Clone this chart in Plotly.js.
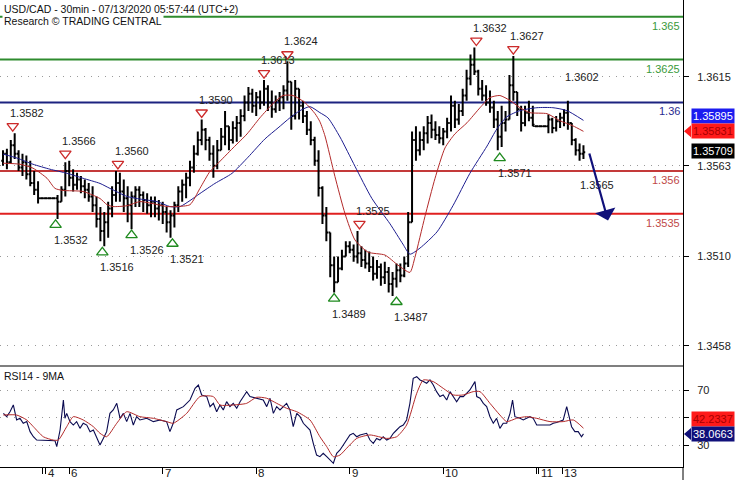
<!DOCTYPE html>
<html><head><meta charset="utf-8">
<script src="https://cdn.plot.ly/plotly-3.0.1.min.js"></script>
<style>html,body{margin:0;padding:0;background:#fff}#chart{width:735px;height:480px}</style>
</head><body><div id="chart"></div>
<script>
// ---- 30-min bars (time slot index = 2*i) ----
const barOpen = [1.3566,1.3570,1.3565,1.3575,1.3570,1.3562,1.3565,1.3558,1.3553,1.3549,
1.3544,1.3544,1.3544,1.3544,1.3544,1.3542,1.3549,1.3560,1.3556,1.3552,
1.3555,1.3551,1.3549,1.3545,1.3540,1.3532,1.3525,1.3530,1.3538,1.3546,
1.3553,1.3548,1.3544,1.3540,1.3545,1.3549,1.3546,1.3543,1.3540,1.3542,
1.3538,1.3540,1.3536,1.3530,1.3534,1.3540,1.3548,1.3552,1.3556,1.3562,
1.3570,1.3578,1.3584,1.3578,1.3570,1.3563,1.3572,1.3580,1.3586,1.3578,
1.3585,1.3588,1.3592,1.3600,1.3605,1.3598,1.3603,1.3600,1.3608,1.3600,
1.3596,1.3601,1.3603,1.3607,1.3612,1.3592,1.3608,1.3598,1.3592,1.3584,
1.3578,1.3566,1.3550,1.3534,1.3524,1.3505,1.3495,1.3503,1.3510,1.3516,
1.3514,1.3510,1.3512,1.3508,1.3506,1.3504,1.3500,1.3504,1.3498,1.3501,
1.3494,1.3497,1.3502,1.3499,1.3506,1.3530,1.3578,1.3572,1.3578,1.3582,
1.3588,1.3584,1.3581,1.3579,1.3583,1.3588,1.3598,1.3590,1.3595,1.3604,
1.3614,1.3622,1.3618,1.3608,1.3604,1.3600,1.3597,1.3590,1.3580,1.3588,
1.3590,1.3610,1.3606,1.3596,1.3588,1.3594,1.3591,1.3586,1.3586,1.3586,
1.3586,1.3590,1.3585,1.3589,1.3591,1.3594,1.3588,1.3578,1.3572,1.3570];
const barHigh = [1.3572,1.3573,1.3578,1.3582,1.3572,1.3570,1.3569,1.3566,1.3560,1.3554,
1.3544,1.3544,1.3544,1.3544,1.3546,1.3551,1.3565,1.3566,1.3561,1.3559,
1.3557,1.3555,1.3553,1.3551,1.3545,1.3539,1.3536,1.3542,1.3551,1.3560,
1.3559,1.3555,1.3551,1.3548,1.3551,1.3551,1.3548,1.3547,1.3545,1.3545,
1.3543,1.3542,1.3539,1.3537,1.3542,1.3551,1.3555,1.3559,1.3566,1.3575,
1.3583,1.3590,1.3585,1.3580,1.3575,1.3578,1.3585,1.3595,1.3586,1.3589,
1.3592,1.3596,1.3604,1.3609,1.3608,1.3606,1.3607,1.3613,1.3610,1.3607,
1.3604,1.3606,1.3610,1.3624,1.3612,1.3613,1.3608,1.3601,1.3595,1.3589,
1.3580,1.3572,1.3551,1.3539,1.3524,1.3510,1.3510,1.3514,1.3519,1.3519,
1.3517,1.3525,1.3516,1.3514,1.3513,1.3510,1.3508,1.3506,1.3507,1.3504,
1.3501,1.3506,1.3506,1.3510,1.3536,1.3583,1.3586,1.3583,1.3586,1.3592,
1.3593,1.3589,1.3586,1.3585,1.3591,1.3604,1.3601,1.3599,1.3608,1.3619,
1.3628,1.3632,1.3619,1.3613,1.3610,1.3607,1.3601,1.3595,1.3598,1.3595,
1.3616,1.3627,1.3606,1.3598,1.3598,1.3601,1.3598,1.3586,1.3586,1.3586,
1.3593,1.3591,1.3592,1.3594,1.3596,1.3601,1.3588,1.3579,1.3576,1.3575];
const barLow = [1.3563,1.3561,1.3564,1.3567,1.3560,1.3557,1.3555,1.3551,1.3546,1.3541,
1.3544,1.3544,1.3544,1.3544,1.3532,1.3542,1.3545,1.3551,1.3548,1.3549,
1.3547,1.3544,1.3542,1.3536,1.3527,1.3519,1.3516,1.3521,1.3533,1.3542,
1.3542,1.3536,1.3530,1.3526,1.3539,1.3539,1.3536,1.3535,1.3533,1.3533,
1.3531,1.3529,1.3524,1.3521,1.3527,1.3536,1.3542,1.3544,1.3551,1.3559,
1.3569,1.3575,1.3572,1.3566,1.3556,1.3561,1.3572,1.3575,1.3572,1.3576,
1.3577,1.3580,1.3589,1.3595,1.3594,1.3592,1.3596,1.3598,1.3595,1.3591,
1.3594,1.3595,1.3596,1.3601,1.3584,1.3590,1.3590,1.3588,1.3581,1.3575,
1.3563,1.3545,1.3529,1.3519,1.3498,1.3489,1.3495,1.3502,1.3510,1.3512,
1.3507,1.3506,1.3504,1.3503,1.3501,1.3496,1.3497,1.3493,1.3494,1.3489,
1.3487,1.3492,1.3495,1.3498,1.3504,1.3530,1.3566,1.3569,1.3572,1.3576,
1.3579,1.3578,1.3576,1.3575,1.3579,1.3583,1.3585,1.3587,1.3592,1.3601,
1.3610,1.3616,1.3604,1.3601,1.3598,1.3594,1.3585,1.3572,1.3574,1.3583,
1.3590,1.3601,1.3592,1.3583,1.3586,1.3589,1.3586,1.3586,1.3586,1.3586,
1.3582,1.3582,1.3583,1.3585,1.3586,1.3584,1.3575,1.3569,1.3566,1.3567];
const barClose = [1.3570,1.3565,1.3575,1.3570,1.3562,1.3565,1.3558,1.3553,1.3549,1.3544,
1.3544,1.3544,1.3544,1.3544,1.3542,1.3549,1.3560,1.3556,1.3552,1.3555,
1.3551,1.3549,1.3545,1.3540,1.3532,1.3525,1.3530,1.3538,1.3546,1.3553,
1.3548,1.3544,1.3540,1.3545,1.3549,1.3546,1.3543,1.3540,1.3542,1.3538,
1.3540,1.3536,1.3530,1.3534,1.3540,1.3548,1.3552,1.3556,1.3562,1.3570,
1.3578,1.3584,1.3578,1.3570,1.3563,1.3572,1.3580,1.3586,1.3578,1.3585,
1.3588,1.3592,1.3600,1.3605,1.3598,1.3603,1.3600,1.3608,1.3600,1.3596,
1.3601,1.3603,1.3607,1.3612,1.3592,1.3608,1.3598,1.3592,1.3584,1.3578,
1.3566,1.3550,1.3534,1.3524,1.3505,1.3495,1.3503,1.3510,1.3516,1.3514,
1.3510,1.3512,1.3508,1.3506,1.3504,1.3500,1.3504,1.3498,1.3501,1.3494,
1.3497,1.3502,1.3499,1.3506,1.3530,1.3578,1.3572,1.3578,1.3582,1.3588,
1.3584,1.3581,1.3579,1.3583,1.3588,1.3598,1.3590,1.3595,1.3604,1.3614,
1.3622,1.3618,1.3608,1.3604,1.3600,1.3597,1.3590,1.3580,1.3588,1.3590,
1.3610,1.3606,1.3596,1.3588,1.3594,1.3591,1.3587,1.3586,1.3586,1.3586,
1.3590,1.3585,1.3589,1.3591,1.3594,1.3588,1.3578,1.3572,1.3570,1.35709];
const weekendT  = [18, 27, null, 272, 280];
const weekendPx = [1.3544, 1.3544, null, 1.3586, 1.3586];

// ---- moving averages ----
const redMaT = [0,8.7,15.4,22.6,26.7,30.8,41.1,49.8,53.4,56.5,63.7,70.3,77,84.2,89.3,96,101.1,106.3,109.9,118.1,125.3,131.9,138.6,143.7,148.9,155,160.2,162.7,165.3,170.4,175.6,180.7,187.4,196.1,202.8,208.9,211.5,216.6,221.8,226.9,232,238.2,244.9,250,255.1,260.3,265.4,270.5,279.3,285.9,292.6,298];
const redMaVal = [1.35645,1.35639,1.35616,1.35557,1.35498,1.35486,1.3548,1.35439,1.35403,1.35392,1.35397,1.35421,1.35409,1.35392,1.35392,1.35403,1.35498,1.35598,1.35639,1.35734,1.35816,1.3591,1.35993,1.3604,1.3604,1.35999,1.35934,1.35887,1.35804,1.35568,1.3535,1.35197,1.35126,1.35109,1.3505,1.35008,1.35097,1.35333,1.35557,1.35734,1.35816,1.35881,1.35969,1.36028,1.3604,1.36011,1.35969,1.3594,1.35934,1.35893,1.35863,1.35831];
const blueMaT = [0,7.2,15.4,24.1,32.9,41.1,49.8,54.9,63.7,71.9,79.1,85.7,90.9,96,101.1,108.8,117.6,125.8,134.5,141.2,147.3,152.5,157.6,162.7,166.8,173,180.7,189.4,198.7,205.3,208.9,214.1,222.8,231,239.7,248.5,253.6,258.7,265.4,274.1,282.3,289.5,298];
const blueMaVal = [1.35698,1.35675,1.35639,1.3561,1.35586,1.35557,1.35527,1.35498,1.35451,1.35433,1.35421,1.35392,1.35392,1.35427,1.35468,1.35527,1.35586,1.3568,1.35787,1.35851,1.3591,1.35952,1.35975,1.3594,1.3591,1.35798,1.35627,1.35439,1.35291,1.35173,1.35114,1.3515,1.35244,1.35397,1.35586,1.35745,1.35846,1.35916,1.35952,1.35969,1.35969,1.35952,1.35895];

// ---- RSI14 and its 9MA ----
const rsiT = [0.2,1.9,3.6,5.3,7.0,8.7,10.4,12.2,13.9,15.6,17.3,26.7,27.6,29.3,31.0,31.8,32.7,34.4,36.1,37.8,39.5,41.2,43.0,44.7,46.4,48.1,49.8,51.5,53.2,54.9,56.6,58.4,60.1,61.8,63.5,65.2,66.9,68.6,70.3,73.8,77.2,80.6,84.0,85.7,87.4,89.2,92.6,96.0,98.6,100.3,102.0,104.6,106.3,108.0,109.7,111.4,113.1,114.8,116.5,118.2,120.0,121.7,125.1,126.8,130.2,133.6,135.4,137.1,138.8,140.5,142.2,145.6,147.3,149.0,150.8,152.5,154.2,157.6,159.3,161.0,162.7,164.4,166.2,169.6,171.3,173.0,174.7,176.4,178.1,179.8,181.6,183.3,186.7,188.4,190.1,191.8,193.5,195.2,197.0,198.7,200.4,202.1,203.8,205.5,207.2,208.9,210.6,212.4,214.1,215.8,217.5,219.2,220.9,222.6,224.3,226.0,227.8,229.5,231.2,232.9,234.6,236.3,238.0,239.7,242.3,243.2,244.9,246.6,248.3,250.0,251.7,253.4,255.1,256.8,258.6,260.3,261.6,262.8,265.4,267.1,268.8,270.5,272.2,274.0,280.8,282.5,284.2,285.9,287.6,289.4,290.2,291.9,293.6,295.3,297.0,298.0];
const rsiVal = [53.0,50.6,54.2,59.1,48.2,49.4,45.8,47.0,39.7,36.0,33.6,33.1,28.8,40.9,62.7,49.4,53.0,47.0,44.5,47.0,42.1,45.8,44.5,39.7,40.9,34.8,30.0,34.8,39.7,53.0,55.5,60.3,49.4,53.0,47.0,53.0,44.5,50.6,48.2,49.4,47.0,48.2,47.0,39.7,45.8,55.5,57.9,62.7,71.2,73.6,66.4,65.2,57.9,60.3,54.2,59.1,55.5,61.5,57.9,60.3,56.7,61.5,68.8,65.2,64.0,62.7,57.9,64.0,53.0,57.9,55.5,60.3,55.5,43.3,53.0,50.6,45.8,40.9,31.2,22.7,21.5,24.0,21.5,16.7,24.0,26.4,30.0,33.6,37.3,38.5,36.0,37.3,38.5,33.6,31.2,34.8,33.6,36.0,33.6,34.8,38.5,40.9,43.3,44.5,48.2,60.3,78.5,79.7,77.3,76.1,74.9,77.3,73.6,68.8,65.2,66.4,62.7,68.8,65.2,61.5,65.2,65.2,67.6,70.0,76.1,65.2,64.0,60.3,57.9,50.6,45.8,49.4,42.1,45.8,45.8,53.0,62.7,50.6,49.4,48.2,49.4,50.6,49.4,44.5,44.5,45.8,46.3,47.0,48.2,57.9,53.0,43.3,39.7,39.7,36.0,38.0663];
const rsiMaT = [0.2,7.0,12.2,15.6,20.7,25.8,28.4,32.7,36.1,41.2,46.4,49.8,53.2,58.4,63.5,70.3,77.2,84.0,87.4,94.3,101.1,108.0,111.4,118.2,125.1,130.2,135.4,140.5,145.6,150.8,157.6,162.7,166.2,169.6,173.0,176.4,181.6,188.4,197.0,202.1,207.2,212.4,215.8,220.9,226.0,231.2,236.3,241.4,244.9,250.0,255.1,258.6,263.7,268.8,274.0,280.8,287.6,292.8,298.0];
const rsiMaVal = [51.8,51.8,48.2,43.3,36.0,33.6,33.6,43.3,50.6,48.2,43.3,38.5,36.0,45.8,54.2,50.6,49.4,47.0,45.8,53.0,65.2,65.2,59.1,59.1,60.3,64.7,64.0,60.3,56.7,54.2,48.2,36.0,28.8,21.5,22.7,27.6,34.8,37.3,34.8,36.0,44.5,67.6,77.3,76.1,71.2,66.4,66.4,68.8,68.8,60.3,51.8,47.0,49.4,50.6,49.4,47.0,47.0,48.2,42.2337];

// ---- pivots, levels, projection ----
const pivotHighT = [5,32,59,102,134,146,183,243,262];
const pivotHighVal = [1.3582,1.3566,1.3560,1.3590,1.3613,1.3624,1.3525,1.3632,1.3627];
const pivotLowT = [27,51,66,87,170,202,255];
const pivotLowVal = [1.3532,1.3516,1.3526,1.3521,1.3489,1.3487,1.3571];
const levelValues = [1.365,1.3625,1.36,1.356,1.3535];
const levelLabels = ['1.365','1.3625','1.36','1.356','1.3535'];
const levelColors = ['#2e8b2e','#2e8b2e','#1c2380','#c43a3a','#e02020'];
const levelTextColors = ['#3a9a3a','#3a9a3a','#2a2a90','#c04848','#c04848'];
const projT = [297,305];
const projVal = [1.3615,1.3552];
const projText = ['1.3602','1.3565'];
const arrowT = [300.8,310.6];
const arrowVal = [1.3571,1.3531];

// ---- axes ----
const priceTicks = [1.3458,1.3510,1.3563,1.3615];
const rsiTicks = [30,50,70];
const rsiTickText = ['30','','70'];
const dayTickT = [20.5,22,34,82,130,178,226,273.7,275,287];
const dayTickText = ['','4','6','7','8','9','10','','11','13'];

const barT = barOpen.map((_, i) => 2 * i);
const FONT = 'Liberation Sans, Arial, sans-serif';
const Y_TOP = 1.365975, Y_BOT = 1.344615;
const MAIN_PX = 366, PLOT_H = 467;
const split = 1 - MAIN_PX / PLOT_H;
const pp = px => px * (Y_TOP - Y_BOT) / MAIN_PX;   // pixels -> price units
const R_TOP = 87.45, R_BOT = 14.0;
const rp = px => px * (R_TOP - R_BOT) / (PLOT_H - MAIN_PX);

const traces = [
  {type:'ohlc', x:barT, open:barOpen, high:barHigh, low:barLow, close:barClose,
   increasing:{line:{color:'#000', width:2}}, decreasing:{line:{color:'#000', width:2}},
   tickwidth:0.45, hoverinfo:'skip', xaxis:'x', yaxis:'y'},
  {type:'scatter', mode:'lines', x:weekendT, y:weekendPx, line:{color:'#000', width:1}, hoverinfo:'skip'},
  {type:'scatter', mode:'lines', x:blueMaT, y:blueMaVal, line:{color:'#1e1e90', width:1, shape:'spline', smoothing:0.6}, hoverinfo:'skip'},
  {type:'scatter', mode:'lines', x:redMaT, y:redMaVal, line:{color:'#b32a2a', width:1, shape:'spline', smoothing:0.6}, hoverinfo:'skip'},
  {type:'scatter', mode:'markers', x:pivotHighT, y:pivotHighVal.map(v => v + pp(7)),
   marker:{symbol:'triangle-down-open', size:10, color:'#cc2a2a', line:{width:1.3, color:'#cc2a2a'}}, hoverinfo:'skip'},
  {type:'scatter', mode:'markers', x:pivotLowT, y:pivotLowVal.map(v => v - pp(6)),
   marker:{symbol:'triangle-up-open', size:10, color:'#1f8a1f', line:{width:1.3, color:'#1f8a1f'}}, hoverinfo:'skip'},
  {type:'scatter', mode:'lines', x:rsiT, y:rsiVal, xaxis:'x', yaxis:'y2', line:{color:'#0a0a50', width:1.1}, hoverinfo:'skip'},
  {type:'scatter', mode:'lines', x:rsiMaT, y:rsiMaVal, xaxis:'x', yaxis:'y2', line:{color:'#b32a2a', width:1, shape:'spline', smoothing:0.6}, hoverinfo:'skip'}
];

const shapes = [];
levelValues.forEach((v, i) => shapes.push({type:'line', xref:'paper', yref:'y', x0:0, x1:1, y0:v, y1:v,
  line:{color:levelColors[i], width:2}, layer:'below'}));
shapes.push({type:'line', xref:'paper', yref:'paper', x0:0, x1:1, y0:split, y1:split, line:{color:'#000', width:1.2}});
shapes.push({type:'line', xref:'paper', yref:'paper', x0:1, x1:1, y0:0, y1:-13/PLOT_H, line:{color:'#000', width:1}});

const ann = [];
const txt = (o) => Object.assign({showarrow:false, font:{family:FONT, size:11, color:'#222'}}, o);
ann.push(txt({xref:'paper', yref:'paper', x:0, y:1, xanchor:'left', yanchor:'top', xshift:2, yshift:-1,
  text:'USD/CAD - 30min - 07/13/2020 05:57:44 (UTC+2)', font:{family:FONT, size:10.5, color:'#111'}}));
ann.push(txt({xref:'paper', yref:'paper', x:0, y:1, xanchor:'left', yanchor:'top', xshift:2, yshift:-13,
  text:'Research © TRADING CENTRAL', bgcolor:'#fff', borderpad:1, font:{family:FONT, size:10.5, color:'#111'}}));
ann.push(txt({xref:'paper', yref:'paper', x:0, y:split, xanchor:'left', yanchor:'top', xshift:2, yshift:-2,
  text:'RSI14 - 9MA', font:{family:FONT, size:10.5, color:'#111'}}));
levelValues.forEach((v, i) => ann.push(txt({xref:'paper', yref:'y', x:1, y:v, xanchor:'right', yanchor:'top',
  xshift:-1, yshift:-1, text:levelLabels[i], font:{family:FONT, size:11, color:levelTextColors[i]}})));
pivotHighT.forEach((t, i) => ann.push(txt({x:t, y:pivotHighVal[i], xanchor:'left', yanchor:'middle',
  xshift:-5, yshift:20, text:pivotHighVal[i].toFixed(4)})));
pivotLowT.forEach((t, i) => ann.push(txt({x:t, y:pivotLowVal[i], xanchor:'left', yanchor:'middle',
  xshift:-4, yshift:-21, text:pivotLowVal[i].toFixed(4)})));
projT.forEach((t, i) => ann.push(txt({x:t, y:projVal[i], xanchor:'center', yanchor:'middle', text:projText[i]})));
ann.push({x:arrowT[1], y:arrowVal[1], ax:arrowT[0], ay:arrowVal[0], xref:'x', yref:'y', axref:'x', ayref:'y',
  showarrow:true, arrowhead:1, arrowsize:1.6, arrowwidth:2.2, arrowcolor:'#10107a', text:''});
// day labels, to the right of their ticks
dayTickT.forEach((t, i) => { if (dayTickText[i]) ann.push(txt({x:t, xref:'x', yref:'paper', y:0, xanchor:'left', yanchor:'top',
  xshift:1, yshift:1, borderpad:0, text:dayTickText[i], font:{family:FONT, size:11.5, color:'#222'}})); });

// value boxes on right axis
const lastBlue = blueMaVal[blueMaVal.length-1], lastRed = redMaVal[redMaVal.length-1], lastClose = barClose[barClose.length-1];
const lastRsi = rsiVal[rsiVal.length-1], lastRsiMa = rsiMaVal[rsiMaVal.length-1];
const box = (v, s, yref, bg, fg, ysh) => txt({xref:'paper', yref:yref, x:1, y:v, xanchor:'left', yanchor:'middle',
  xshift:8, yshift:ysh, text:s, bgcolor:bg, borderpad:1, font:{family:FONT, size:11, color:fg}});
ann.push(box(lastBlue, lastBlue.toFixed(5), 'y', '#1c1cf0', '#fff', 4));
ann.push(box(lastRed, lastRed.toFixed(5), 'y', '#ff1a1a', '#a80000', 0));
ann.push(box(lastClose, lastClose.toFixed(5), 'y', '#000', '#fff', 1));
ann.push(box(lastRsiMa, lastRsiMa.toFixed(4), 'y2', '#ff1a1a', '#a80000', 9));
ann.push(box(lastRsi, lastRsi.toFixed(4), 'y2', '#10107a', '#fff', 0));
const px0 = 1 + 1/683, px1 = 1 + 8/683;
shapes.push({type:'path', xref:'paper', yref:'y', path:`M ${px0} ${lastRed} L ${px1} ${lastRed + pp(6)} L ${px1} ${lastRed - pp(6)} Z`,
  fillcolor:'#ff1a1a', line:{width:0}});
shapes.push({type:'path', xref:'paper', yref:'y2', path:`M ${px0} ${lastRsi} L ${px1} ${lastRsi + rp(6)} L ${px1} ${lastRsi - rp(6)} Z`,
  fillcolor:'#10107a', line:{width:0}});

const layout = {
  width:735, height:480, margin:{l:0, r:52, t:0, b:13, pad:0},
  paper_bgcolor:'#fff', plot_bgcolor:'#fff', showlegend:false,
  font:{family:FONT, size:11, color:'#222'},
  xaxis:{range:[-1.54, 349.1], anchor:'y2', tickvals:dayTickT, ticktext:dayTickText, ticks:'outside', ticklen:6,
    tickcolor:'#000', showline:true, linecolor:'#000', linewidth:1, showgrid:false, zeroline:false,
    showticklabels:false, rangeslider:{visible:false}, fixedrange:true},
  yaxis:{domain:[split, 1], range:[Y_BOT, Y_TOP], side:'right', anchor:'x', tickvals:priceTicks, tickformat:'.4f',
    ticks:'outside', ticklen:5, tickcolor:'#000', showline:true, linecolor:'#000', linewidth:1,
    showgrid:true, gridcolor:'#9a9a9a', griddash:'1px,6px', gridwidth:1, zeroline:false, ticklabelstandoff:6,
    tickfont:{family:FONT, size:11, color:'#222'}, fixedrange:true},
  yaxis2:{domain:[0, split], range:[R_BOT, R_TOP], side:'right', anchor:'x', tickvals:rsiTicks, ticktext:rsiTickText,
    ticks:'outside', ticklen:5, tickcolor:'#000', showline:true, linecolor:'#000', linewidth:1,
    showgrid:true, gridcolor:'#9a9a9a', griddash:'1px,6px', gridwidth:1, zeroline:false, ticklabelstandoff:6,
    tickfont:{family:FONT, size:11, color:'#222'}, fixedrange:true},
  shapes:shapes, annotations:ann
};
Plotly.newPlot('chart', traces, layout, {staticPlot:true, displayModeBar:false});
</script>
</body></html>
